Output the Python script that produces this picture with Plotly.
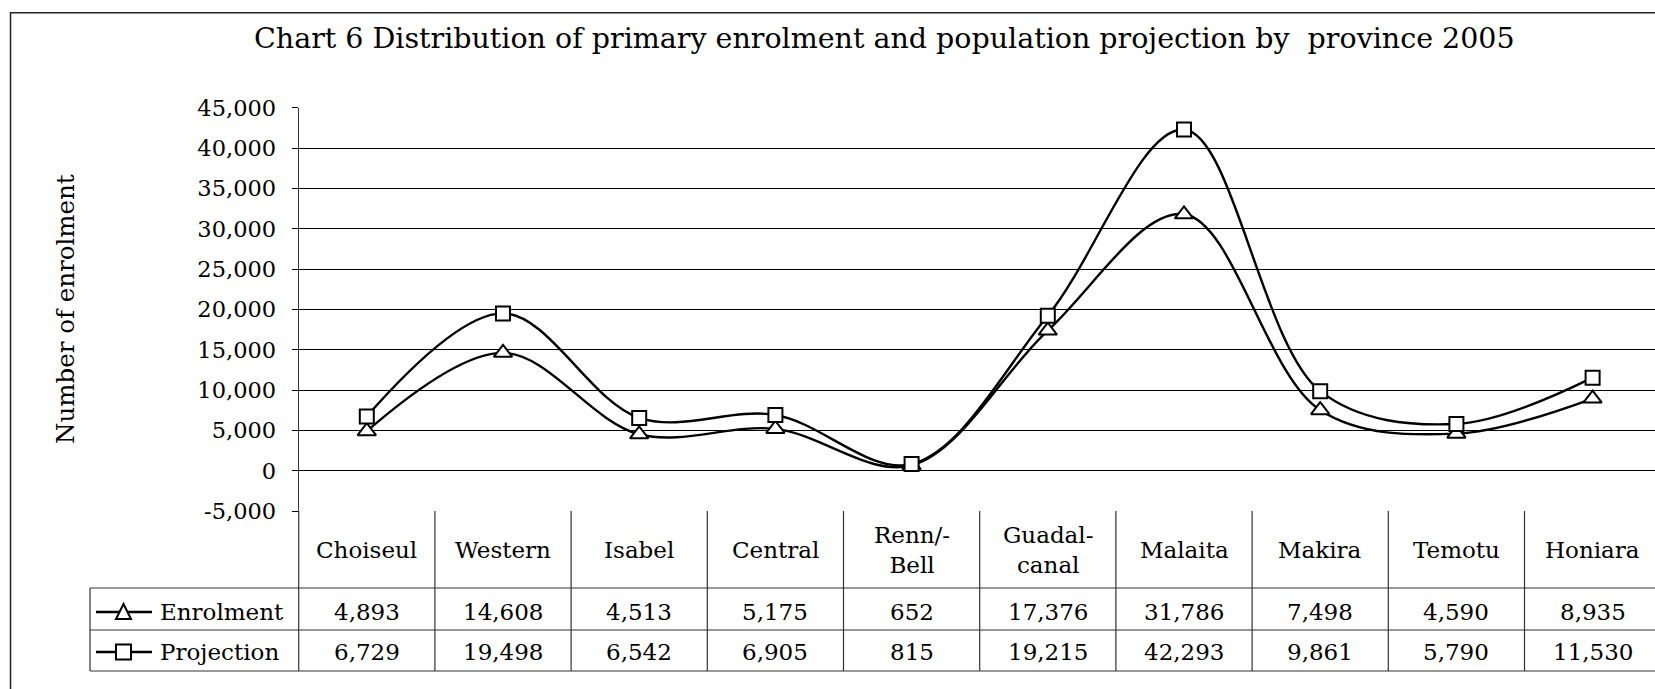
import plotly.graph_objects as go

# ---- data ----
provinces = ["Choiseul", "Western", "Isabel", "Central", "Renn/-<br>Bell",
             "Guadal-<br>canal", "Malaita", "Makira", "Temotu", "Honiara"]
enrolment = [4893, 14608, 4513, 5175, 652, 17376, 31786, 7498, 4590, 8935]
projection = [6729, 19498, 6542, 6905, 815, 19215, 42293, 9861, 5790, 11530]
series_names = ["Enrolment", "Projection"]
y_ticks = list(range(-5000, 45001, 5000))

title = "Chart 6 Distribution of primary enrolment and population projection by  province 2005"
y_title = "Number of enrolment"

# ---- layout geometry (pixels) ----
W, H = 1655, 689
FONT = "DejaVu Serif"
plot_left, plot_top, plot_bottom = 298.7, 107.7, 511.0
col_w = 136.2
row1_top, row2_top, table_bottom = 588.0, 630.0, 671.0
table_left = 90.0


def px(x):
    return x / W


def py(y):
    return 1 - y / H


xs = list(range(len(provinces)))
fig = go.Figure()

line_style = dict(color="black", width=2.4, shape="spline", smoothing=1.0)
fig.add_trace(go.Scatter(x=xs, y=enrolment, mode="lines+markers", name=series_names[0],
                         line=line_style,
                         marker=dict(symbol="triangle-up", size=16, color="white",
                                     line=dict(color="black", width=2)),
                         cliponaxis=False))
fig.add_trace(go.Scatter(x=xs, y=projection, mode="lines+markers", name=series_names[1],
                         line=line_style,
                         marker=dict(symbol="square", size=14, color="white",
                                     line=dict(color="black", width=2)),
                         cliponaxis=False))

x_end = -0.5 + (W - plot_left) / col_w

shapes = []
lc = dict(color="#333333", width=1.2)
# outer chart border
shapes.append(dict(type="rect", xref="paper", yref="paper",
                   x0=px(10.5), x1=px(W + 20), y0=py(12.7), y1=py(H + 20),
                   line=dict(color="#222222", width=1.5)))
# table horizontal lines
for yy in (row1_top, row2_top, table_bottom):
    shapes.append(dict(type="line", xref="paper", yref="paper",
                       x0=px(table_left), x1=px(W + 5), y0=py(yy), y1=py(yy), line=lc))
# table left edge
shapes.append(dict(type="line", xref="paper", yref="paper",
                   x0=px(table_left), x1=px(table_left), y0=py(row1_top), y1=py(table_bottom), line=lc))
# plot left edge through table
shapes.append(dict(type="line", xref="paper", yref="paper",
                   x0=px(plot_left), x1=px(plot_left), y0=py(plot_bottom), y1=py(table_bottom), line=lc))
# column separators
for i in range(len(provinces)):
    shapes.append(dict(type="line", xref="x", yref="paper",
                       x0=i + 0.5, x1=i + 0.5, y0=py(plot_bottom), y1=py(table_bottom), line=lc))

annotations = []
# title
annotations.append(dict(text=title, xref="paper", yref="paper", x=px(884), y=py(38),
                        showarrow=False, font=dict(family=FONT, size=28.5, color="black"),
                        xanchor="center", yanchor="middle"))
# y title
annotations.append(dict(text=y_title, xref="paper", yref="paper", x=px(65), y=py(309),
                        textangle=-90, showarrow=False,
                        font=dict(family=FONT, size=24.5, color="black"),
                        xanchor="center", yanchor="middle"))
# header row
TS = 23
for i, p in enumerate(provinces):
    annotations.append(dict(text=p, xref="x", yref="paper", x=i, y=py(550),
                            showarrow=False, font=dict(family=FONT, size=TS, color="black"),
                            xanchor="center", yanchor="middle"))
# value rows
rows = [(enrolment, 612), (projection, 652)]
for vals, yc in rows:
    for i, v in enumerate(vals):
        annotations.append(dict(text=f"{v:,}", xref="x", yref="paper", x=i, y=py(yc),
                                showarrow=False, font=dict(family=FONT, size=TS, color="black"),
                                xanchor="center", yanchor="middle"))
# legend keys in table
key_x0, key_x1, key_c = 96, 152, 123.5
for k, (name, (vals, yc)) in enumerate(zip(series_names, rows)):
    shapes.append(dict(type="line", xref="paper", yref="paper",
                       x0=px(key_x0), x1=px(key_x1), y0=py(yc), y1=py(yc),
                       line=dict(color="black", width=2.4)))
    s = 7.5
    if k == 0:
        path = (f"M {px(key_c)},{py(yc - 8)} L {px(key_c + s)},{py(yc + 7)} "
                f"L {px(key_c - s)},{py(yc + 7)} Z")
        shapes.append(dict(type="path", xref="paper", yref="paper", path=path,
                           fillcolor="white", line=dict(color="black", width=2)))
    else:
        shapes.append(dict(type="rect", xref="paper", yref="paper",
                           x0=px(key_c - s), x1=px(key_c + s), y0=py(yc - s), y1=py(yc + s),
                           fillcolor="white", line=dict(color="black", width=2)))
    annotations.append(dict(text=name, xref="paper", yref="paper", x=px(158), y=py(yc),
                            showarrow=False, font=dict(family=FONT, size=TS, color="black"),
                            xanchor="left", yanchor="middle"))

fig.update_layout(
    width=W, height=H, autosize=False,
    margin=dict(l=0, r=0, t=0, b=0, pad=0, autoexpand=False),
    paper_bgcolor="white", plot_bgcolor="white",
    showlegend=False,
    font=dict(family=FONT, color="black"),
    xaxis=dict(domain=[px(plot_left), 1], range=[-0.5, x_end], showgrid=False, automargin=False,
               zeroline=False, showticklabels=False, ticks="", showline=False, fixedrange=True),
    yaxis=dict(domain=[py(plot_bottom), py(plot_top)], range=[-5000, 45000], automargin=False,
               tickvals=y_ticks, ticktext=[f"{v:,}" for v in y_ticks],
               showgrid=True, gridcolor="black", gridwidth=1,
               zeroline=True, zerolinecolor="black", zerolinewidth=1,
               showline=True, linecolor="#333333", linewidth=1.2,
               ticks="outside", ticklen=6, tickcolor="black",
               tickfont=dict(family=FONT, size=22.5, color="black"),
               ticklabelstandoff=11),
    shapes=shapes,
    annotations=annotations,
)

fig.write_html(
    "out.html",
    config={"displayModeBar": False},
    post_script=("document.body.style.margin='0px';"
                 "document.body.style.overflow='hidden';"),
)
